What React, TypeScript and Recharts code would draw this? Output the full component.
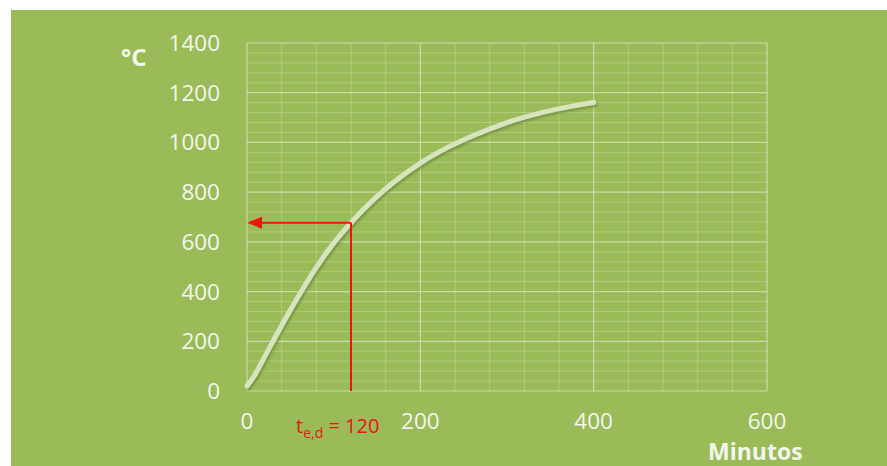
import { LineChart, Line, XAxis, YAxis, ReferenceLine } from 'recharts'

// curve (minutes -> °C)
const minutes = [0, 10, 20, 30, 45, 60, 80, 100, 120, 145, 170, 200, 230, 260, 300, 340, 375, 400]
const temps = [20, 70, 135, 200, 295, 385, 497, 595, 677, 767, 842, 917, 977, 1026, 1080, 1120, 1146, 1161]

const xTicks = [0, 200, 400, 600]
const yTicks = [0, 200, 400, 600, 800, 1000, 1200, 1400]

// grid every 40 units, stronger lines on the labelled ticks
const xGrid = [40, 80, 120, 160, 240, 280, 320, 360, 440, 480, 520, 560]
const yGrid = [
  40, 80, 120, 160, 240, 280, 320, 360, 440, 480, 520, 560, 640, 680, 720, 760,
  840, 880, 920, 960, 1040, 1080, 1120, 1160, 1240, 1280, 1320, 1360,
]

const teD = 120
const teTemp = 677

const data = minutes.map((m, i) => ({ m, t: temps[i] }))

const GREEN = '#9bbb59'
const RED = '#e8180c'
const FONT = '"Open Sans", sans-serif'

const ArrowLine = (props: any) => {
  const { x1, y1, x2, y2 } = props
  const tipX = Math.min(x1, x2)
  const tailX = Math.max(x1, x2)
  return (
    <g>
      <line x1={tailX} y1={y1} x2={tipX + 12} y2={y2} stroke={RED} strokeWidth={2} />
      <polygon points={`${tipX},${y1} ${tipX + 15},${y1 - 6} ${tipX + 15},${y1 + 6}`} fill={RED} />
    </g>
  )
}

export default function App() {
  return (
    <div style={{ position: 'absolute', left: 0, top: 0, width: 887, height: 466, background: '#fff', fontFamily: FONT }}>
      <div style={{ position: 'absolute', left: 11, top: 10, width: 876, height: 456, background: GREEN }}>
        <LineChart width={876} height={456} data={data} margin={{ top: 33, right: 120, left: 0, bottom: 0 }}>
          <defs>
            <filter id="shadow" x="-10%" y="-10%" width="120%" height="120%">
              <feDropShadow dx="1.5" dy="2" stdDeviation="1" floodColor="#5f7a2a" floodOpacity={0.6} />
            </filter>
          </defs>
          <XAxis
            dataKey="m"
            type="number"
            domain={[0, 600]}
            ticks={xTicks}
            axisLine={false}
            tickLine={false}
            tickMargin={16}
            height={75}
            tick={{ fill: '#f4f7ee', fontSize: 22.5, fontFamily: FONT }}
          />
          <YAxis
            type="number"
            domain={[0, 1400]}
            ticks={yTicks}
            axisLine={false}
            tickLine={false}
            tickMargin={21}
            width={236}
            tick={{ fill: '#f4f7ee', fontSize: 22.5, fontFamily: FONT }}
          />
          {xGrid.map((v) => (
            <ReferenceLine key={`xg${v}`} x={v} stroke="rgba(255,255,255,0.22)" strokeWidth={1} />
          ))}
          {yGrid.map((v) => (
            <ReferenceLine key={`yg${v}`} y={v} stroke="rgba(255,255,255,0.22)" strokeWidth={1} />
          ))}
          {xTicks.map((v) => (
            <ReferenceLine key={`xm${v}`} x={v} stroke="rgba(255,255,255,0.45)" strokeWidth={1.2} />
          ))}
          {yTicks.map((v) => (
            <ReferenceLine key={`ym${v}`} y={v} stroke="rgba(255,255,255,0.45)" strokeWidth={1.2} />
          ))}
          <Line
            dataKey="t"
            type="monotone"
            stroke="#d7e4bd"
            strokeWidth={5}
            strokeLinecap="round"
            dot={false}
            activeDot={false}
            filter="url(#shadow)"
            isAnimationActive={false}
          />
          <ReferenceLine
            segment={[{ x: teD, y: 0 }, { x: teD, y: teTemp }]}
            stroke={RED}
            strokeWidth={2}
          />
          <ReferenceLine
            segment={[{ x: teD, y: teTemp }, { x: 0, y: teTemp }]}
            stroke={RED}
            strokeWidth={2}
            shape={ArrowLine}
          />
        </LineChart>
      </div>
      <div style={{ position: 'absolute', left: 121, top: 42, fontSize: 24, fontWeight: 700, color: '#f4f7ee', lineHeight: '30px' }}>
        °C
      </div>
      <div style={{ position: 'absolute', left: 708, top: 436, fontSize: 23, fontWeight: 700, color: '#f4f7ee', lineHeight: '30px' }}>
        Minutos
      </div>
      <div style={{ position: 'absolute', left: 296, top: 412, fontSize: 20, color: RED, lineHeight: '28px', whiteSpace: 'nowrap' }}>
        t<sub style={{ fontSize: 14, verticalAlign: '-5px' }}>e,d</sub> = 120
      </div>
    </div>
  )
}
